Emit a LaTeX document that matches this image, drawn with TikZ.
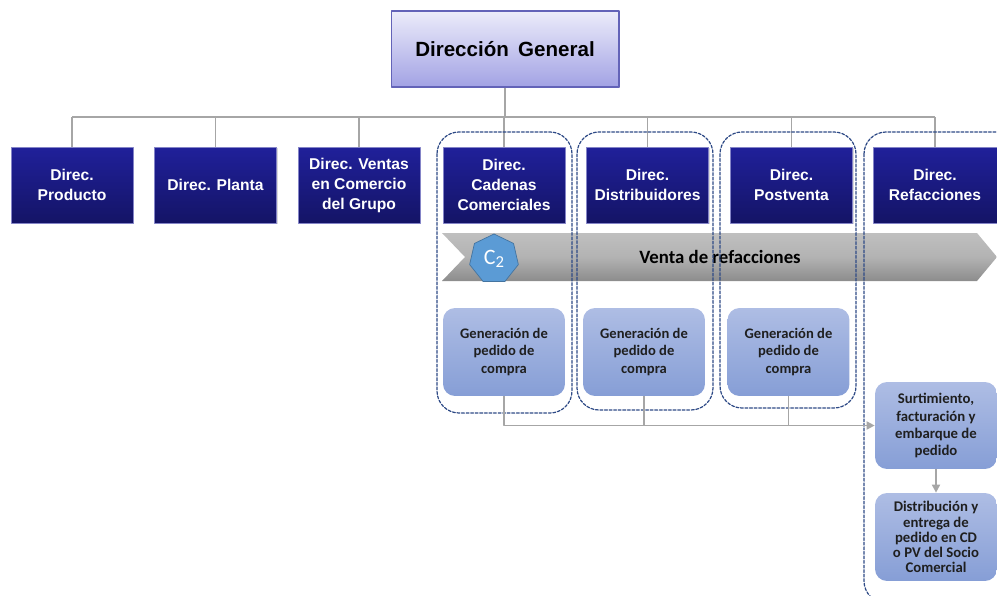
\documentclass[tikz,border=0pt]{standalone}
\usepackage{fontspec}
\setmainfont{Liberation Sans}
\newfontfamily\calib{Carlito}
\usetikzlibrary{shapes.geometric,arrows.meta,shadows}
\definecolor{NavyTop}{HTML}{20209A}
\definecolor{NavyBot}{HTML}{141466}
\definecolor{LavTop}{HTML}{ECECFA}
\definecolor{LavBot}{HTML}{A2A2E4}
\definecolor{PaleTop}{HTML}{AEBDE4}
\definecolor{PaleBot}{HTML}{869ED6}
\definecolor{GroupLine}{HTML}{2E4A86}
\definecolor{LinkGray}{HTML}{A6A6A6}
\definecolor{HeptaBlue}{HTML}{5B9BD5}

\begin{document}
\begin{tikzpicture}[x=0.02cm,y=-0.02cm,line cap=round,line join=round,
  dirbox/.style={draw=NavyTop!55!white,line width=.4pt,top color=NavyTop,bottom color=NavyBot,
    text=white,align=center,font=\bfseries\fontsize{8.9}{11.4}\selectfont,
    minimum width=2.44cm,minimum height=1.52cm,inner sep=1pt,
    drop shadow={opacity=.3,shadow xshift=.7pt,shadow yshift=-.7pt}},
  genbox/.style={rounded corners=.24cm,top color=PaleTop,bottom color=PaleBot,draw=none,
    text=black!88,align=center,font=\calib\bfseries\fontsize{8.3}{10.2}\selectfont,
    minimum width=2.44cm,minimum height=1.76cm,inner sep=1pt},
  grp/.style={draw=GroupLine,line width=.7pt,dash pattern=on 1.6pt off 1pt,rounded corners=.44cm},
  orgline/.style={draw=LinkGray,line width=1pt,line cap=butt},
  flow/.style={orgline,-{Triangle[length=4.6pt,width=4.6pt]}}]
  \useasboundingbox (0,0) rectangle (997,595);

  \node[draw=NavyTop!70!white,line width=.6pt,top color=LavTop,bottom color=LavBot,
    minimum width=4.56cm,minimum height=1.52cm,font=\bfseries\fontsize{11.7}{13}\selectfont,
    drop shadow={opacity=.3,shadow xshift=.7pt,shadow yshift=-.7pt}]
    (dg) at (505,49) {Dirección\hspace{.45em}General};

  \node[dirbox] (dprod) at (72,185) {Direc.\\Producto};
  \node[dirbox] (dplan) at (215.5,185) {Direc. Planta};
  \node[dirbox] (dvent) at (359,185) {Direc. Ventas\\en Comercio\\del Grupo};
  \node[dirbox] (dcad) at (504,185) {Direc.\\Cadenas\\Comerciales};
  \node[dirbox] (ddis) at (647.5,185) {Direc.\\Distribuidores};
  \node[dirbox] (dpost) at (791.5,185) {Direc.\\Postventa};
  \node[dirbox,minimum width=2.48cm] (dref) at (935,185) {Direc.\\Refacciones};

  \coordinate (bus) at (505,117);
  \draw[orgline] (dg) -- (bus);
  \draw[orgline] (dprod.north |- bus) -- (dref.north |- bus);
  \foreach \n in {dprod,dplan,dvent,dcad,ddis,dpost,dref}
    \draw[orgline] (\n.north) -- (\n.north |- bus);

  \shade[top color=black!25,bottom color=black!45,middle color=black!30]
    (442,233) -- (977,233) -- (997,257) -- (977,281) -- (442,281) -- (465,257) -- cycle;
  \node[regular polygon,regular polygon sides=7,minimum size=1cm,inner sep=0pt,
    fill=HeptaBlue,draw=HeptaBlue!75!black,line width=.4pt,text=white,
    font=\calib\fontsize{12.5}{12.5}\selectfont] (c2) at (494,259)
    {C\raisebox{-1.8pt}{\fontsize{9.5}{9.5}\selectfont 2}};
  \node[font=\calib\bfseries\fontsize{10.7}{12}\selectfont] (venta) at (720,257) {Venta de refacciones};

  \node[genbox] (gen1) at (504,352) {Generación de\\pedido de\\compra};
  \node[genbox] (gen2) at (644,352) {Generación de\\pedido de\\compra};
  \node[genbox] (gen3) at (788.5,352) {Generación de\\pedido de\\compra};
  \node[genbox,minimum height=1.74cm,font=\calib\bfseries\fontsize{8.4}{9.7}\selectfont]
    (surt) at (936,425.5) {Surtimiento,\\facturación y\\embarque de\\pedido};
  \node[genbox,font=\calib\bfseries\fontsize{8.4}{8.6}\selectfont]
    (entr) at (936,537) {Distribución y\\entrega de\\pedido en CD\\o PV del Socio\\Comercial};

  \draw[grp] (437,132) rectangle (572,413);
  \draw[grp] (577,132) rectangle (713,410);
  \draw[grp] (720,132) rectangle (856,408);
  \begin{scope}
    \clip (0,0) rectangle (997,595);
    \draw[grp] (864,132) rectangle (1030,603);
  \end{scope}

  \draw[flow] (gen1.south) |- (surt.west);
  \draw[orgline] (gen2.south) -- (gen2.south |- surt.west);
  \draw[orgline] (gen3.south) -- (gen3.south |- surt.west);
  \draw[flow] (surt) -- (entr);
\end{tikzpicture}
\end{document}
